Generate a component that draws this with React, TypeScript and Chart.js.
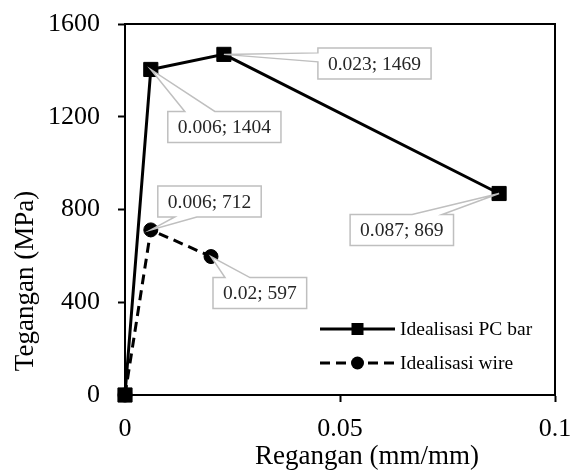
import React, { useEffect, useRef } from 'react';
import { Chart, registerables } from 'chart.js';

Chart.register(...registerables);

// ---- data ----
const pcBarStrain = [0, 0.006, 0.023, 0.087];
const pcBarStress = [0, 1404, 1469, 869];
const wireStrain = [0, 0.006, 0.02];
const wireStress = [0, 712, 597];
const xTicks = [0, 0.05, 0.1];
const yTicks = [0, 400, 800, 1200, 1600];
const seriesNames = ['Idealisasi PC bar', 'Idealisasi wire'];
const xTitle = 'Regangan (mm/mm)';
const yTitle = 'Tegangan (MPa)';

const FONT = '"Liberation Serif", "Times New Roman", serif';

// callout placement (style): dataset, point index, box offset from point, wedge edge + span
const callouts = [
  { ds: 0, idx: 1, dx: 17, dy: 42, edge: 'top', a: 17, b: 47 },
  { ds: 0, idx: 2, dx: 94, dy: -6.5, edge: 'left', a: 5, b: 14 },
  { ds: 0, idx: 3, dx: -149, dy: 21, edge: 'top', a: 62, b: 92 },
  { ds: 1, idx: 1, dx: 7, dy: -44, edge: 'bottom', a: 17, b: 39 },
  { ds: 1, idx: 2, dx: 2, dy: 21, edge: 'top', a: 12, b: 37 },
];

const framePlugin = {
  id: 'frame',
  beforeDatasetsDraw(chart: any) {
    const { ctx, chartArea: ca } = chart;
    ctx.save();
    ctx.strokeStyle = '#000';
    ctx.lineWidth = 2;
    ctx.strokeRect(ca.left, ca.top, ca.right - ca.left, ca.bottom - ca.top);
    ctx.restore();
  },
};

const titlePlugin = {
  id: 'axisTitles',
  afterDraw(chart: any) {
    const { ctx, chartArea: ca } = chart;
    ctx.save();
    ctx.fillStyle = '#000';
    ctx.font = `27px ${FONT}`;
    ctx.textAlign = 'center';
    ctx.textBaseline = 'alphabetic';
    // x title
    ctx.fillText(xTitle, (ca.left + ca.right) / 2 + 27, chart.height - 6);
    // y title
    ctx.translate(33, ca.bottom - 114);
    ctx.rotate(-Math.PI / 2);
    ctx.fillText(yTitle, 0, 0);
    ctx.restore();
  },
};

const calloutPlugin = {
  id: 'callouts',
  afterDatasetsDraw(chart: any) {
    const { ctx } = chart;
    ctx.save();
    ctx.font = `19.5px ${FONT}`;
    for (const c of callouts) {
      const el = chart.getDatasetMeta(c.ds).data[c.idx];
      const pt = chart.data.datasets[c.ds].data[c.idx] as any;
      const text = `${pt.x}; ${pt.y}`;
      const px = el.x;
      const py = el.y;
      const w = ctx.measureText(text).width + 20;
      const h = 31;
      const bx = px + c.dx;
      const by = py + c.dy;
      ctx.beginPath();
      ctx.moveTo(bx, by);
      if (c.edge === 'top') {
        ctx.lineTo(bx + c.a, by);
        ctx.lineTo(px, py);
        ctx.lineTo(bx + c.b, by);
      }
      ctx.lineTo(bx + w, by);
      ctx.lineTo(bx + w, by + h);
      if (c.edge === 'bottom') {
        ctx.lineTo(bx + c.b, by + h);
        ctx.lineTo(px, py);
        ctx.lineTo(bx + c.a, by + h);
      }
      ctx.lineTo(bx, by + h);
      if (c.edge === 'left') {
        ctx.lineTo(bx, by + c.b);
        ctx.lineTo(px, py);
        ctx.lineTo(bx, by + c.a);
      }
      ctx.closePath();
      ctx.fillStyle = '#fff';
      ctx.fill();
      ctx.strokeStyle = '#bfbfbf';
      ctx.lineWidth = 1.5;
      ctx.lineJoin = 'miter';
      ctx.stroke();
      ctx.fillStyle = '#262626';
      ctx.textAlign = 'center';
      ctx.textBaseline = 'middle';
      ctx.fillText(text, bx + w / 2, by + h / 2 + 1);
    }
    ctx.restore();
  },
};

const legendPlugin = {
  id: 'insideLegend',
  afterDraw(chart: any) {
    const { ctx, chartArea: ca } = chart;
    ctx.save();
    chart.data.datasets.forEach((ds: any, i: number) => {
      const y = ca.bottom - 66 + i * 34;
      const x0 = ca.right - 235;
      const x1 = ca.right - 160;
      ctx.strokeStyle = ds.borderColor;
      ctx.lineWidth = ds.borderWidth;
      ctx.setLineDash(ds.borderDash || []);
      ctx.beginPath();
      ctx.moveTo(x0, y);
      ctx.lineTo(x1, y);
      ctx.stroke();
      ctx.setLineDash([]);
      const mx = (x0 + x1) / 2;
      ctx.fillStyle = ds.pointBackgroundColor;
      if (ds.pointStyle === 'rect') {
        ctx.fillRect(mx - 6, y - 6, 12, 12);
      } else {
        ctx.beginPath();
        ctx.arc(mx, y, 6.5, 0, Math.PI * 2);
        ctx.fill();
      }
      ctx.fillStyle = '#000';
      ctx.font = `19.5px ${FONT}`;
      ctx.textAlign = 'left';
      ctx.textBaseline = 'middle';
      ctx.fillText(ds.label, x1 + 5, y + 1);
    });
    ctx.restore();
  },
};

export default function App() {
  const ref = useRef<HTMLCanvasElement | null>(null);
  useEffect(() => {
    if (!ref.current) return;
    const chart = new Chart(ref.current, {
      type: 'line',
      data: {
        datasets: [
          {
            label: seriesNames[0],
            data: pcBarStrain.map((x, i) => ({ x, y: pcBarStress[i] })),
            borderColor: '#000',
            borderWidth: 3,
            pointStyle: 'rect',
            pointRadius: 10,
            pointBorderWidth: 1,
            pointBackgroundColor: '#000',
            pointBorderColor: '#000',
            fill: false,
            tension: 0,
            clip: false,
          } as any,
          {
            label: seriesNames[1],
            data: wireStrain.map((x, i) => ({ x, y: wireStress[i] })),
            borderColor: '#000',
            borderWidth: 3,
            borderDash: [10, 6],
            pointStyle: 'circle',
            pointRadius: 7,
            pointBorderWidth: 1,
            pointBackgroundColor: '#000',
            pointBorderColor: '#000',
            fill: false,
            tension: 0,
            clip: false,
          } as any,
        ],
      },
      options: {
        animation: false,
        responsive: false,
        maintainAspectRatio: false,
        layout: { padding: { top: 24, right: 16, left: 0, bottom: 0 } },
        plugins: {
          legend: { display: false },
          tooltip: { enabled: false },
        },
        scales: {
          x: {
            type: 'linear',
            min: 0,
            max: 0.1,
            afterBuildTicks: (s: any) => {
              s.ticks = xTicks.map((v) => ({ value: v }));
            },
            afterFit: (s: any) => {
              s.height = 75;
              s.paddingLeft = 0;
              s.paddingRight = 0;
            },
            ticks: {
              callback: (v: any) => String(v),
              color: '#000',
              font: { family: FONT, size: 26 },
              padding: 12,
              maxRotation: 0,
            },
            grid: {
              drawOnChartArea: false,
              drawTicks: true,
              tickLength: 7,
              tickColor: '#000',
              tickWidth: 2,
              color: '#000',
            },
            border: { display: true, color: '#000', width: 2 },
            title: { display: false },
          },
          y: {
            type: 'linear',
            min: 0,
            max: 1600,
            afterBuildTicks: (s: any) => {
              s.ticks = yTicks.map((v) => ({ value: v }));
            },
            afterFit: (s: any) => {
              s.width = 125;
              s.paddingTop = 0;
              s.paddingBottom = 0;
            },
            ticks: {
              callback: (v: any) => String(v),
              color: '#000',
              font: { family: FONT, size: 26 },
              padding: 18,
            },
            grid: {
              drawOnChartArea: false,
              drawTicks: true,
              tickLength: 7,
              tickColor: '#000',
              tickWidth: 2,
              color: '#000',
            },
            border: { display: true, color: '#000', width: 2 },
            title: { display: false },
          },
        },
      },
      plugins: [framePlugin, calloutPlugin, legendPlugin, titlePlugin],
    });
    return () => chart.destroy();
  }, []);
  return (
    <div style={{ position: 'absolute', left: 0, top: 0, width: 571, height: 470, background: '#fff' }}>
      <canvas ref={ref} width={571} height={470} />
    </div>
  );
}
